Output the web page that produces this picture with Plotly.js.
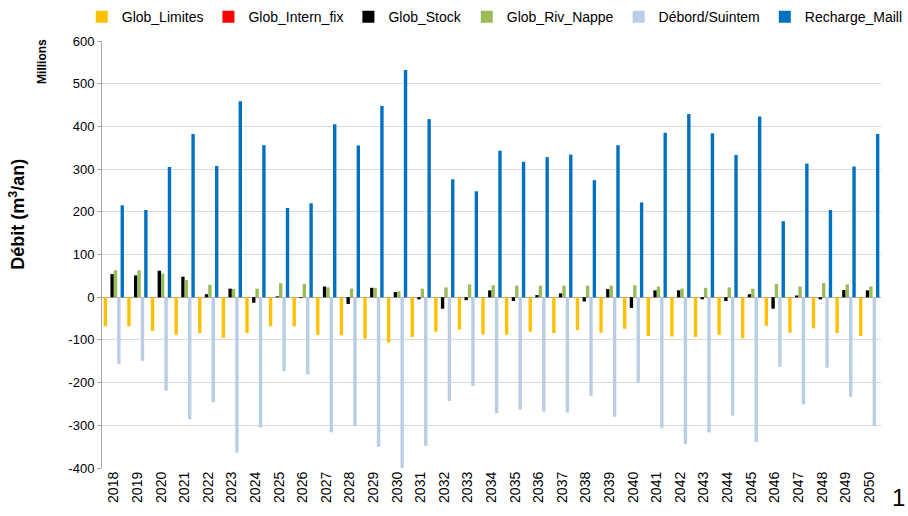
<!DOCTYPE html>
<html>
<head>
<meta charset="utf-8">
<script src="https://cdn.plot.ly/plotly-3.0.1.min.js"></script>
<style>html,body{margin:0;padding:0;background:#fff;}#chart{width:908px;height:516px;}</style>
</head>
<body>
<div id="chart"></div>
<script>
const years = ["2018","2019","2020","2021","2022","2023","2024","2025","2026","2027","2028","2029","2030","2031","2032","2033","2034","2035","2036","2037","2038","2039","2040","2041","2042","2043","2044","2045","2046","2047","2048","2049","2050"];
const globLimites = [-68,-68,-79,-88,-84,-95,-84,-68,-68,-88,-89,-97,-106,-93,-81,-76,-87,-88,-81,-84,-77,-83,-74,-91,-92,-93,-88,-96,-67,-83,-73,-84,-91];
const globInternFix = [0,0,0,0,0,0,0,0,0,0,0,0,0,0,0,0,0,0,0,0,0,0,0,0,0,0,0,0,0,0,0,0,0];
const globStock = [54,51,62,48,7,20,-13,2,-2,25,-16,22,12,-5,-27,-7,16,-9,5,9,-10,19,-25,16,16,-5,-9,7,-27,4,-5,17,16];
const globRivNappe = [63,63,55,40,29,19,20,33,31,23,20,22,14,20,23,30,28,27,27,27,27,27,28,25,20,22,23,20,31,25,33,30,25];
const debordSuintem = [-156,-149,-219,-286,-246,-364,-305,-173,-181,-316,-302,-350,-401,-348,-243,-208,-272,-263,-268,-270,-231,-280,-200,-306,-344,-317,-277,-339,-163,-251,-165,-233,-301];
const rechargeMaill = [215,204,305,382,307,459,356,209,220,405,355,448,532,417,276,248,343,317,328,334,274,356,222,385,429,384,333,423,178,313,204,306,382];
const yTicks = [-400,-300,-200,-100,0,100,200,300,400,500,600];

const names = ["Glob_Limites","Glob_Intern_fix","Glob_Stock","Glob_Riv_Nappe","Débord/Suintem","Recharge_Maill"];
const series = [globLimites, globInternFix, globStock, globRivNappe, debordSuintem, rechargeMaill];
const colors = ["#FFC000","#FF0000","#000000","#9BBB59","#B9CDE5","#0070C0"];

const data = series.map((s,i)=>({
  type:"bar", x:years, y:s, name:names[i],
  marker:{color:colors[i], line:{width:0}}
}));

const FONT = "Liberation Sans, Arial, sans-serif";
const layout = {
  width:908, height:516,
  margin:{l:102, r:27, t:41, b:48, autoexpand:false},
  paper_bgcolor:"#fff", plot_bgcolor:"#fff",
  font:{family:FONT, size:12, color:"#000"},
  barmode:"group", bargap:0.14, bargroupgap:0,
  showlegend:true,
  legend:{orientation:"h", x:-0.026, xanchor:"left", y:1.056, yanchor:"middle",
    font:{size:14}, itemwidth:30, traceorder:"normal", tracegroupgap:0},
  xaxis:{type:"category", tickangle:-90, tickfont:{size:14}, showgrid:false, showline:false, zeroline:false, ticks:"", ticklen:0, automargin:false},
  yaxis:{range:[-400,600], tickvals:yTicks, ticktext:yTicks.map(String), tickfont:{size:13},
    showgrid:true, gridcolor:"#D9D9D9", gridwidth:1, zeroline:true, zerolinecolor:"#A6A6A6", zerolinewidth:1,
    showline:true, linecolor:"#A6A6A6", linewidth:1, ticks:"outside", ticklen:4, tickcolor:"#A6A6A6",
    automargin:false},
  annotations:[
    {text:"<b>Débit (m<sup>3</sup>/an)</b>", xref:"paper", yref:"paper", x:-0.108, y:0.595, xanchor:"center", yanchor:"middle", textangle:-90, showarrow:false, font:{size:18, family:FONT}},
    {text:"<b>Millions</b>", xref:"paper", yref:"paper", x:-0.077, y:0.951, xanchor:"center", yanchor:"middle", textangle:-90, showarrow:false, font:{size:12, family:FONT}},
    {text:"1", xref:"paper", yref:"paper", x:1.022, y:-0.07, xanchor:"center", yanchor:"middle", showarrow:false, font:{size:24, family:FONT}}
  ]
};

Plotly.newPlot("chart", data, layout, {displayModeBar:false, staticPlot:true});
</script>
</body>
</html>
